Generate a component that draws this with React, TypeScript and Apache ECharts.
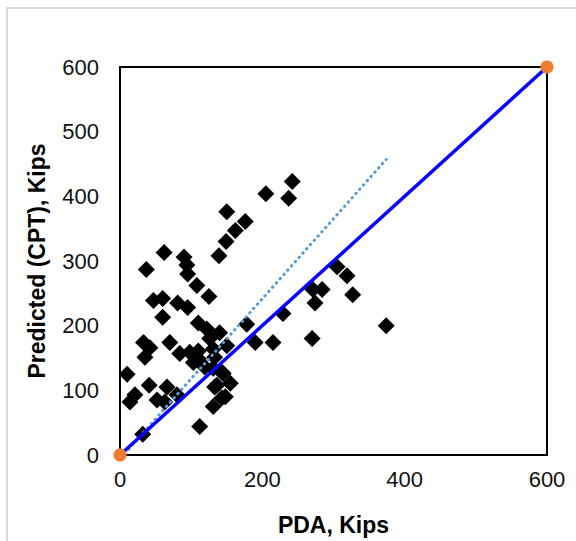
import React, { useEffect, useRef } from "react";
import * as echarts from "echarts";

// Measured pile capacities (Kips)
const pdaValues: number[] = [
  242, 205, 237, 150, 176, 162, 149, 139, 62, 37, 90, 94, 95, 108, 125, 47, 60, 81, 95, 60,
  110, 122, 140, 33, 42, 70, 84, 98, 103, 126, 150, 178, 190, 215, 229, 35, 10, 41, 66, 14,
  21, 52, 63, 80, 131, 145, 136, 155, 148, 131, 112, 32, 131, 305, 319, 327, 271, 284, 274, 270,
  374, 110, 110, 133, 119, 143, 133, 143,
];
const cptValues: number[] = [
  423, 404, 397, 376, 361, 347, 330, 308, 313, 287, 306, 294, 280, 262, 245, 239, 242, 235, 228, 213,
  204, 195, 189, 174, 166, 174, 157, 159, 143, 180, 169, 202, 174, 174, 219, 151, 125, 108, 105, 82,
  93, 85, 82, 93, 134, 126, 108, 111, 90, 75, 44, 32, 164, 291, 277, 248, 256, 256, 235, 180,
  200, 161, 149, 151, 136, 128, 105, 88,
];
// 1:1 line
const equalityX: number[] = [0, 600];
const equalityY: number[] = [0, 600];
// linear trend line (dotted)
const trendX: number[] = [12, 374];
const trendY: number[] = [9, 457];

const xTicks = { min: 0, max: 600, interval: 200 };
const yTicks = { min: 0, max: 600, interval: 100 };

const FONT = "'Liberation Sans', Arial, sans-serif";

export default function App() {
  const ref = useRef<HTMLDivElement>(null);
  useEffect(() => {
    if (!ref.current) return;
    const chart = echarts.init(ref.current, undefined, { renderer: "svg" });
    const scatterData = pdaValues.map((x, i) => [x, cptValues[i]]);
    const eqData = equalityX.map((x, i) => [x, equalityY[i]]);
    const trData = trendX.map((x, i) => [x, trendY[i]]);
    chart.setOption({
      animation: false,
      backgroundColor: "#ffffff",
      graphic: [
        {
          type: "rect",
          z: -10,
          silent: true,
          shape: { x: 7, y: 8, width: 800, height: 800 },
          style: { fill: "none", stroke: "#d9d9d9", lineWidth: 2 },
        },
      ],
      grid: {
        left: 120,
        right: 29,
        top: 67,
        bottom: 80,
        show: true,
        borderColor: "#000",
        borderWidth: 2,
        backgroundColor: "transparent",
      },
      xAxis: {
        type: "value",
        min: xTicks.min,
        max: xTicks.max,
        interval: xTicks.interval,
        name: "PDA, Kips",
        nameLocation: "middle",
        nameGap: 58,
        nameTextStyle: { fontFamily: FONT, fontSize: 23, fontWeight: "bold", color: "#000" },
        axisLine: { show: true, lineStyle: { color: "#000", width: 2 } },
        axisTick: { show: false },
        splitLine: { show: false },
        axisLabel: { fontFamily: FONT, fontSize: 22, color: "#111", margin: 13 },
      },
      yAxis: {
        type: "value",
        min: yTicks.min,
        max: yTicks.max,
        interval: yTicks.interval,
        name: "Predicted (CPT), Kips",
        nameLocation: "middle",
        nameGap: 72,
        nameTextStyle: { fontFamily: FONT, fontSize: 23, fontWeight: "bold", color: "#000" },
        axisLine: { show: true, lineStyle: { color: "#000", width: 2 } },
        axisTick: { show: false },
        splitLine: { show: false },
        axisLabel: { fontFamily: FONT, fontSize: 22, color: "#111", margin: 21 },
      },
      series: [
        {
          type: "scatter",
          data: scatterData,
          symbol: "diamond",
          symbolSize: 17,
          itemStyle: { color: "#000", opacity: 1 },
          z: 2,
        },
        {
          type: "line",
          data: trData,
          showSymbol: false,
          symbol: "none",
          lineStyle: { color: "#5B9BD5", width: 3, type: [0.5, 5.2], cap: "round" },
          z: 3,
        },
        {
          type: "line",
          data: eqData,
          clip: false,
          symbol: "circle",
          symbolSize: 13,
          showSymbol: true,
          itemStyle: { color: "#ED7D31", borderWidth: 0 },
          lineStyle: { color: "#0a00ff", width: 3.5 },
          z: 4,
        },
      ],
    });
    return () => chart.dispose();
  }, []);
  return (
    <div
      ref={ref}
      style={{ position: "fixed", left: 0, top: 0, width: 576, height: 541 }}
    />
  );
}
